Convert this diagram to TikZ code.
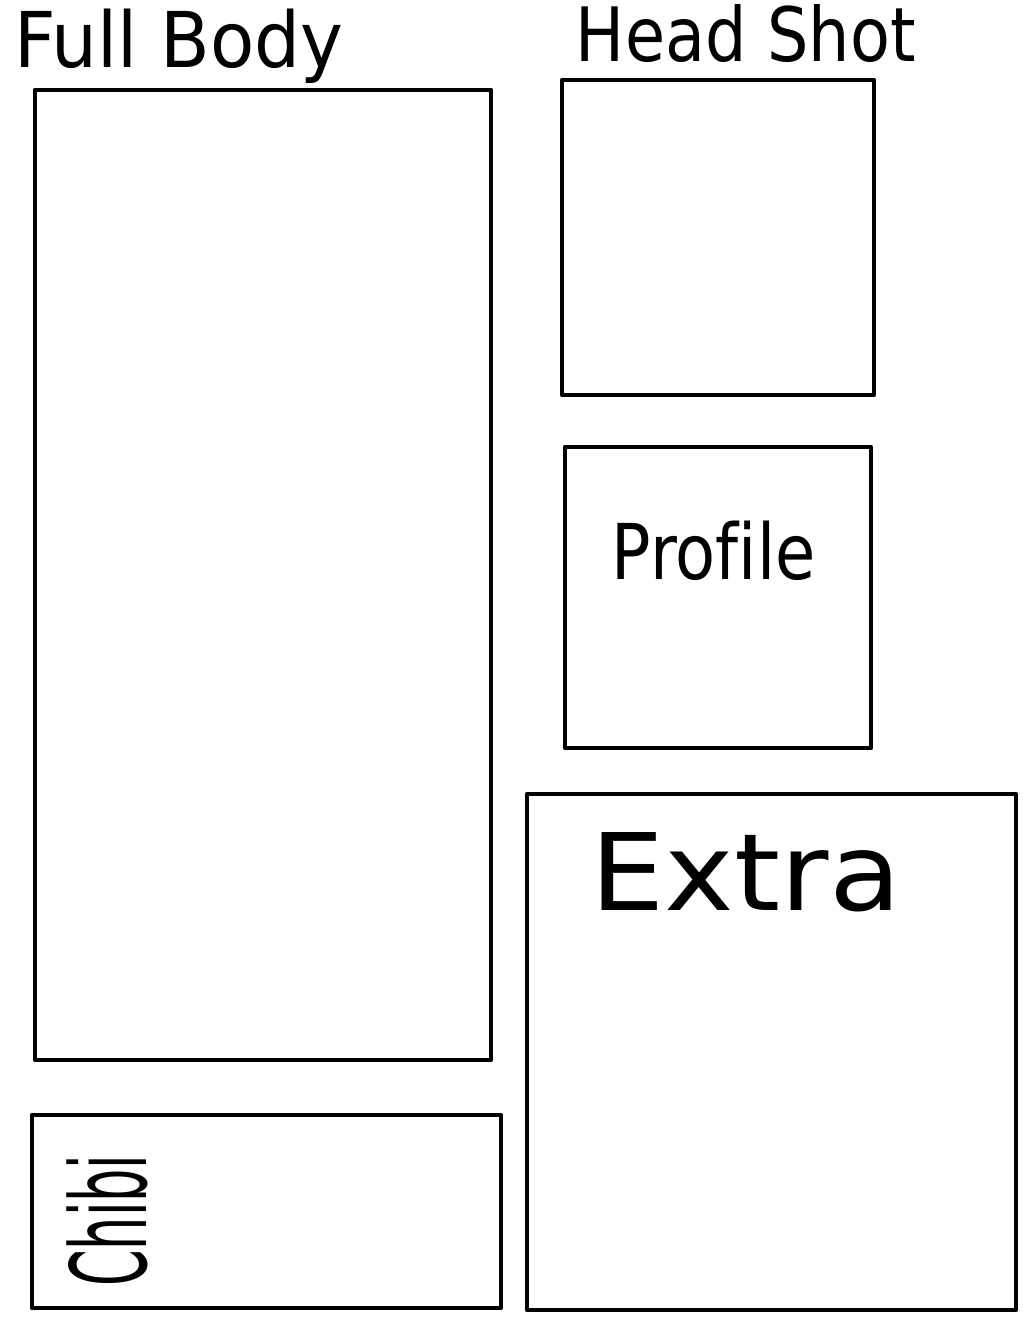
\documentclass[tikz,border=0pt]{standalone}
\usepackage{fontspec}
\setmainfont{DejaVu Sans}[Ligatures=NoCommon]
\begin{document}
\begin{tikzpicture}[x=1pt,y=-1pt,line width=4.5pt,line join=round,
  label/.style={inner sep=0pt,anchor=base west}]
\useasboundingbox[fill=white] (0,0) rectangle (1024,1326);
\draw (35,90) rectangle (491,1060);
\draw (562,80) rectangle (874,395);
\draw (565,447) rectangle (871,748);
\draw (527,794) rectangle (1016,1310);
\draw (32,1115) rectangle (501,1308);
\node[label,font=\fontsize{77}{80}\selectfont,xscale=0.94] (fullbody) at (12,67) {Full Body};
\node[label,font=\fontsize{75}{80}\selectfont,xscale=0.87] (headshot) at (574,61) {Head Shot};
\node[label,font=\fontsize{77}{80}\selectfont,xscale=0.85] (profile) at (610,579) {Profile};
\node[label,font=\fontsize{107}{110}\selectfont,xscale=1.1] (extra) at (588,910) {Extra};
\node[label,font=\fontsize{105}{110}\selectfont,rotate=90,xscale=0.5] (chibi) at (146,1288) {Chibi};
\end{tikzpicture}
\end{document}
